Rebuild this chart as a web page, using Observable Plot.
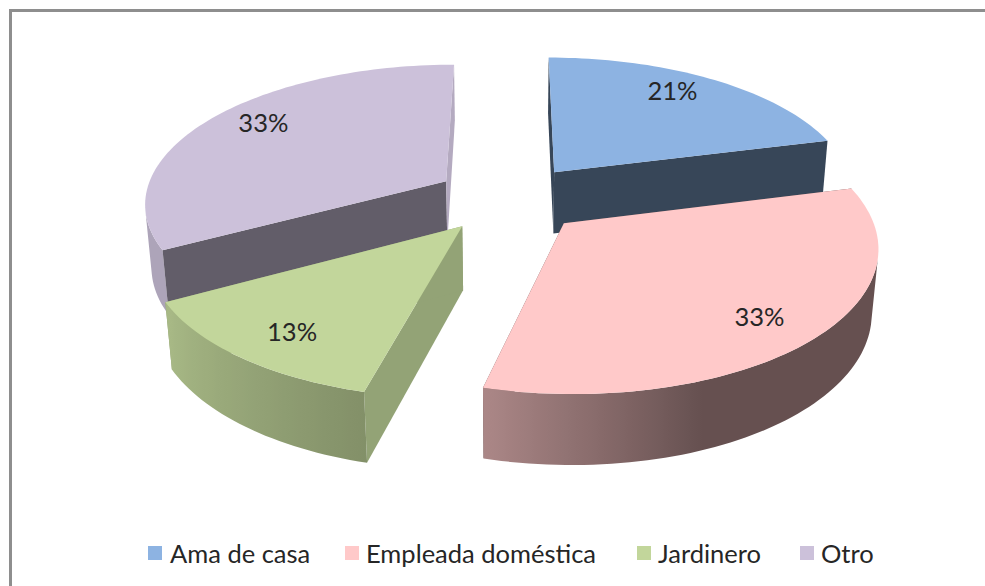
<!DOCTYPE html>
<html><head><meta charset="utf-8">
<script src="https://cdn.jsdelivr.net/npm/d3@7"></script>
<script src="https://cdn.jsdelivr.net/npm/@observablehq/plot@0.6"></script>
<style>
html,body{margin:0;padding:0;background:#fff;width:985px;height:586px;overflow:hidden}
#frame{position:absolute;left:9px;top:9px;width:976px;height:577px;box-sizing:border-box;border-top:3px solid #8e8e8e;border-left:3px solid #8e8e8e}
#chart{position:absolute;left:0;top:0}
#legend{position:absolute;left:0;top:530px;width:985px;height:56px;font:25.5px Lato,sans-serif;color:#262626}
#legend span{position:absolute;top:7px;line-height:32px;white-space:nowrap}
#legend i{position:absolute;top:16px;width:14px;height:14px}
</style></head><body>
<div id="frame"></div>
<div id="chart"></div>
<div id="legend"></div>
<script>
// --- data
const categories = ["Ama de casa", "Empleada doméstica", "Jardinero", "Otro"];
const values = [21, 33, 13, 33];
const labels = ["21%", "33%", "13%", "33%"];
const colors = ["#8db3e2", "#ffc9c9", "#c2d69b", "#ccc1da"];
// --- shading of the two straight walls of each slice
const startWallShade = [0.39, 0.40, 0.76, 0.48];
const endWallShade = [0.39, 0.40, 0.76, 0.88];
const labelAngleShift = [-3.8, 1.5, -1.8, 4];
const drawOrder = [3, 0, 2, 1];
const legendSwatchX = [148, 345, 637, 800];
const legendTextX = [170, 366, 658, 821];

// --- 3D pie model (radius = 1)
const cam = {cx: 509, cy: 198, F: 302, sin: 0.4575, cos: 0.889, D: 6.16};
const explode = 0.248, depth = 0.237, labelRadius = 0.815;
const rad = d => d * Math.PI / 180;
function project(X, Y, Z) {
  const w = 1 - (Y * cam.cos + Z * cam.sin) / cam.D;
  return [cam.cx + cam.F * X / w, cam.cy + cam.F * (Y * cam.sin - Z * cam.cos) / w];
}
const total = d3.sum(values);
let acc = 0;
const slices = values.map((v, i) => {
  const a0 = acc / total * 360; acc += v; const a1 = acc / total * 360;
  const mid = (a0 + a1) / 2;
  return {i, a0, a1, mid, ox: explode * Math.sin(rad(mid)), oy: -explode * Math.cos(rad(mid))};
});
const rimPoint = (s, a, r, Z) => project(s.ox + r * Math.sin(rad(a)), s.oy - r * Math.cos(rad(a)), Z);
function shade(hex, f) {
  const c = d3.rgb(hex);
  return d3.rgb(c.r * f, c.g * f, c.b * f).formatHex();
}
function rimShade(a) { // light falls off from the left towards the front-right
  if (a <= 159) return 0.40;
  if (a <= 194) return 0.40 + (a - 159) / 35 * 0.27;
  if (a <= 241) return 0.67 + (a - 194) / 47 * 0.20;
  return 0.85;
}
// the outer wall is only seen where its normal faces the camera
function rimVisible(s, a) {
  const nx = Math.sin(rad(a)), ny = -Math.cos(rad(a));
  const px = s.ox + nx, py = s.oy + ny;
  return nx * (0 - px) + ny * (cam.D * cam.cos - py) > 0;
}
const polys = [];
let pid = 0;
function addPoly(points, color) {
  const id = pid++;
  for (const [x, y] of points) polys.push({id, x, y, color});
}
const gradients = [];
for (const k of drawOrder) {
  const s = slices[k], col = colors[k];
  const steps = Math.ceil((s.a1 - s.a0) / 1.5);
  const angle = j => s.a0 + (s.a1 - s.a0) * j / steps;
  const rimWall = () => {
    const seen = d3.range(steps + 1).map(angle).filter(a => rimVisible(s, a));
    if (seen.length < 2) return;
    const xs = seen.map(a => rimPoint(s, a, 1, 0)[0]);
    const [xMin, xMax] = d3.extent(xs);
    const id = `rim-${k}`;
    gradients.push({id, stops: seen.map((a, j) => ({offset: (xs[j] - xMin) / (xMax - xMin), color: shade(col, rimShade(a))}))
      .sort((p, q) => p.offset - q.offset)});
    addPoly([...seen.map(a => rimPoint(s, a, 1, 0)), ...seen.slice().reverse().map(a => rimPoint(s, a, 1, -depth))], `url(#${id})`);
  };
  const wall = (a, f) => addPoly([rimPoint(s, a, 0, 0), rimPoint(s, a, 1, 0), rimPoint(s, a, 1, -depth), rimPoint(s, a, 0, -depth)], shade(col, f));
  const front = s.mid > 90 && s.mid < 270;
  if (!front) rimWall();
  wall(s.a0, startWallShade[k]);
  wall(s.a1, endWallShade[k]);
  if (front) rimWall();
  const top = [rimPoint(s, 0, 0, 0)];
  for (let j = 0; j <= steps; j++) top.push(rimPoint(s, angle(j), 1, 0));
  addPoly(top, col);
}
const labelRows = slices.map(s => {
  const [x, y] = rimPoint(s, s.mid + labelAngleShift[s.i], labelRadius, 0);
  return {x, y, text: labels[s.i]};
});

const defsMark = () => {
  const ns = "http://www.w3.org/2000/svg";
  const defs = document.createElementNS(ns, "defs");
  for (const g of gradients) {
    const lg = document.createElementNS(ns, "linearGradient");
    lg.setAttribute("id", g.id);
    for (const st of g.stops) {
      const e = document.createElementNS(ns, "stop");
      e.setAttribute("offset", st.offset);
      e.setAttribute("stop-color", st.color);
      lg.appendChild(e);
    }
    defs.appendChild(lg);
  }
  return defs;
};

const plot = Plot.plot({
  width: 985, height: 530, margin: 0,
  style: {background: "transparent"},
  x: {domain: [0, 985], range: [0, 985], axis: null},
  y: {domain: [0, 530], range: [0, 530], axis: null},
  marks: [
    defsMark,
    Plot.line(polys, {x: "x", y: "y", z: "id", fill: d => d.color, stroke: "none", curve: "linear-closed"}),
    Plot.text(labelRows, {x: "x", y: "y", text: "text", fontSize: 25.5, fontFamily: "Lato, sans-serif", fill: "#262626"})
  ],
  color: {type: "identity"}
});
document.getElementById("chart").appendChild(plot);

const legend = document.getElementById("legend");
categories.forEach((c, i) => {
  const sw = document.createElement("i");
  sw.style.left = legendSwatchX[i] + "px";
  sw.style.background = colors[i];
  const t = document.createElement("span");
  t.style.left = legendTextX[i] + "px";
  t.textContent = c;
  legend.append(sw, t);
});
</script>
</body></html>
